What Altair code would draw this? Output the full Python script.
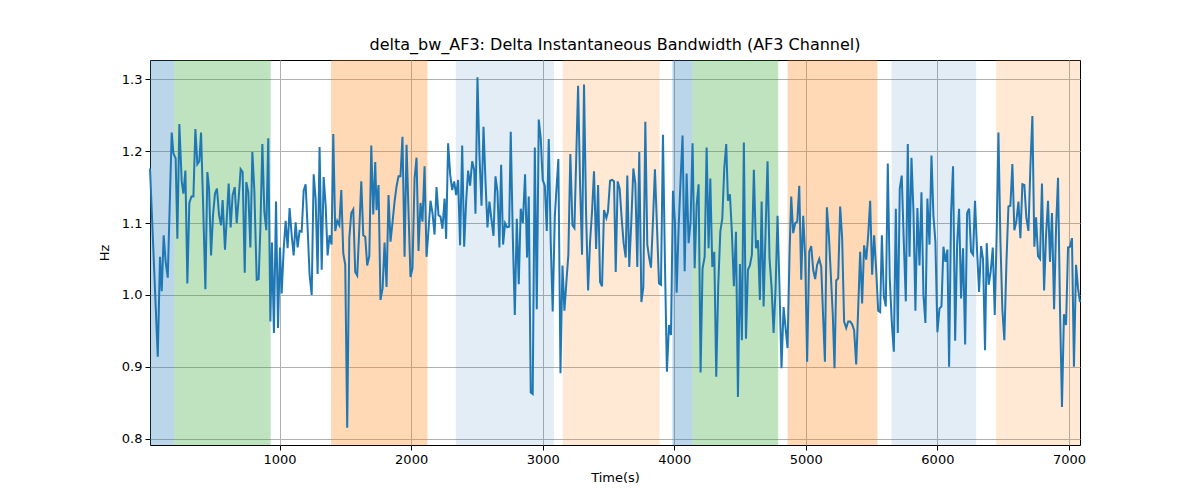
import altair as alt
import pandas as pd

time_s = [
    15, 74, 91, 104, 119, 134, 150, 167, 180, 193, 210, 223, 238, 256, 269, 284,
    299, 314, 330, 345, 360, 375, 390, 403, 418, 436, 451, 464, 479, 494, 509, 524,
    540, 555, 567, 585, 600, 613, 628, 643, 659, 674, 689, 704, 719, 735, 747, 762,
    778, 793, 808, 826, 841, 854, 869, 884, 899, 914, 930, 942, 957, 973, 988, 1003,
    1016, 1031, 1046, 1061, 1076, 1092, 1107, 1122, 1137, 1152, 1168, 1183, 1198, 1213, 1228, 1244,
    1259, 1274, 1289, 1304, 1320, 1335, 1350, 1365, 1380, 1395, 1408, 1423, 1438, 1454, 1469, 1484,
    1499, 1514, 1530, 1545, 1560, 1575, 1590, 1606, 1621, 1636, 1651, 1666, 1682, 1697, 1712, 1727,
    1737, 1752, 1767, 1783, 1798, 1813, 1828, 1843, 1859, 1874, 1889, 1904, 1919, 1934, 1950, 1965,
    1980, 1995, 2010, 2026, 2041, 2056, 2071, 2086, 2102, 2117, 2132, 2147, 2162, 2178, 2193, 2208,
    2223, 2238, 2254, 2266, 2281, 2297, 2312, 2327, 2342, 2357, 2372, 2388, 2403, 2418, 2433, 2448,
    2464, 2479, 2489, 2504, 2519, 2535, 2550, 2565, 2580, 2595, 2611, 2626, 2641, 2656, 2671, 2684,
    2699, 2714, 2730, 2745, 2757, 2773, 2788, 2803, 2818, 2833, 2849, 2866, 2881, 2894, 2909, 2924,
    2940, 2955, 2970, 2985, 3000, 3016, 3031, 3046, 3061, 3076, 3092, 3107, 3119, 3135, 3150, 3165,
    3180, 3195, 3210, 3226, 3241, 3256, 3269, 3284, 3299, 3314, 3330, 3345, 3360, 3375, 3390, 3406,
    3421, 3436, 3451, 3466, 3484, 3496, 3512, 3527, 3542, 3555, 3570, 3585, 3600, 3615, 3631, 3643,
    3658, 3674, 3689, 3704, 3719, 3734, 3750, 3765, 3780, 3795, 3808, 3823, 3838, 3853, 3869, 3884,
    3899, 3914, 3929, 3944, 3960, 3975, 3990, 4005, 4018, 4033, 4048, 4063, 4079, 4094, 4109, 4124,
    4139, 4155, 4170, 4185, 4200, 4215, 4231, 4246, 4261, 4274, 4289, 4304, 4319, 4334, 4350, 4365,
    4380, 4395, 4408, 4423, 4438, 4453, 4469, 4484, 4499, 4514, 4529, 4545, 4560, 4575, 4590, 4605,
    4621, 4636, 4651, 4664, 4679, 4694, 4709, 4724, 4740, 4755, 4770, 4785, 4800, 4815, 4831, 4846,
    4861, 4876, 4889, 4904, 4919, 4935, 4950, 4965, 4980, 4995, 5010, 5026, 5041, 5056, 5071, 5086,
    5102, 5117, 5132, 5145, 5160, 5175, 5190, 5205, 5218, 5231, 5246, 5261, 5276, 5291, 5307, 5322,
    5337, 5352, 5367, 5383, 5398, 5413, 5428, 5443, 5459, 5474, 5489, 5504, 5519, 5534, 5550, 5565,
    5578, 5593, 5608, 5623, 5638, 5653, 5669, 5684, 5699, 5714, 5729, 5745, 5760, 5775, 5788, 5803,
    5818, 5833, 5848, 5864, 5879, 5894, 5909, 5924, 5940, 5955, 5970, 5985, 6000, 6016, 6031, 6046,
    6061, 6076, 6089, 6104, 6119, 6135, 6150, 6165, 6180, 6195, 6211, 6226, 6241, 6256, 6271, 6286,
    6302, 6317, 6332, 6347, 6362, 6375, 6390, 6405, 6421, 6436, 6451, 6464, 6479, 6494, 6509, 6525,
    6540, 6555, 6570, 6585, 6600, 6616, 6631, 6646, 6661, 6676, 6692, 6707, 6722, 6737, 6750, 6765,
    6780, 6795, 6811, 6826, 6841, 6856, 6871, 6887, 6902, 6917, 6932, 6947, 6962, 6978, 6993, 7008,
    7023, 7038, 7054, 7069, 7084,
]

delta_bw_hz = [
    1.176, 0.914, 1.053, 1.005, 1.083, 1.046, 1.024, 1.139, 1.226, 1.197, 1.190, 1.078, 1.238, 1.158, 1.141, 1.173,
    1.016, 1.128, 1.137, 1.137, 1.231, 1.182, 1.186, 1.226, 1.130, 1.008, 1.171, 1.148, 1.055, 1.111, 1.141, 1.148,
    1.111, 1.097, 1.132, 1.063, 1.111, 1.155, 1.094, 1.139, 1.150, 1.100, 1.134, 1.175, 1.171, 1.031, 1.157, 1.143,
    1.066, 1.199, 1.146, 1.021, 1.022, 1.093, 1.210, 1.116, 1.090, 1.218, 0.963, 1.073, 0.947, 1.130, 0.954, 1.066,
    1.002, 1.063, 1.103, 1.065, 1.121, 1.083, 1.055, 1.101, 1.066, 1.089, 1.088, 1.145, 1.154, 1.093, 1.028, 1.000,
    1.168, 1.134, 1.029, 1.206, 1.035, 1.164, 1.125, 1.055, 1.083, 1.070, 1.224, 1.089, 1.103, 1.097, 1.146, 1.058,
    1.042, 0.815, 1.079, 1.114, 1.119, 1.032, 1.027, 1.092, 1.158, 1.083, 1.081, 1.041, 1.054, 1.208, 1.112, 1.185,
    1.118, 1.153, 0.993, 1.009, 1.073, 1.011, 1.139, 1.074, 1.102, 1.130, 1.151, 1.165, 1.165, 1.220, 1.053, 1.209,
    1.116, 1.025, 1.037, 1.162, 1.191, 1.061, 1.128, 1.102, 1.179, 1.053, 1.090, 1.131, 1.114, 1.084, 1.150, 1.111,
    1.109, 1.092, 1.134, 1.078, 1.211, 1.167, 1.146, 1.158, 1.139, 1.160, 1.069, 1.208, 1.067, 1.130, 1.173, 1.152,
    1.186, 1.174, 1.113, 1.303, 1.195, 1.124, 1.234, 1.159, 1.094, 1.130, 1.104, 1.082, 1.165, 1.144, 1.066, 1.181,
    1.070, 1.100, 1.094, 1.095, 1.227, 1.079, 0.972, 1.106, 1.015, 1.120, 1.100, 1.168, 1.052, 1.137, 0.864, 0.862,
    1.205, 0.980, 1.244, 1.218, 1.160, 1.152, 1.089, 1.217, 1.073, 0.977, 1.109, 1.155, 1.189, 0.891, 1.041, 0.978,
    1.018, 1.056, 1.196, 1.097, 1.093, 1.199, 1.291, 1.154, 1.056, 1.293, 1.111, 1.006, 1.074, 1.116, 1.172, 1.064,
    1.153, 1.018, 1.012, 1.118, 1.107, 1.116, 1.159, 1.160, 1.158, 1.032, 1.158, 1.148, 1.107, 1.072, 1.052, 1.166,
    1.039, 1.104, 1.176, 1.155, 1.039, 1.199, 0.990, 1.011, 1.241, 1.070, 1.053, 1.038, 1.102, 1.175, 1.093, 1.016,
    1.014, 1.223, 1.046, 0.893, 0.958, 0.944, 1.145, 1.102, 1.003, 1.093, 1.160, 1.222, 1.033, 1.169, 1.072, 1.102,
    1.211, 1.037, 1.125, 1.154, 0.892, 1.037, 1.053, 1.205, 1.065, 1.162, 1.039, 1.060, 0.886, 1.012, 1.088, 1.106,
    1.176, 1.210, 1.131, 1.140, 1.087, 1.012, 1.088, 0.858, 1.043, 0.937, 1.212, 0.939, 1.035, 1.041, 1.056, 1.174,
    1.065, 1.076, 0.993, 1.130, 0.984, 1.088, 1.186, 1.051, 1.009, 0.947, 1.009, 1.110, 1.009, 0.898, 0.983, 0.954,
    0.926, 1.056, 1.137, 1.086, 1.100, 1.102, 1.152, 1.021, 1.110, 1.053, 0.907, 1.060, 1.068, 1.035, 1.022, 1.042,
    1.050, 1.039, 0.967, 0.907, 1.122, 1.083, 1.028, 0.972, 0.898, 1.020, 1.023, 1.123, 1.079, 0.963, 0.954, 0.963,
    0.963, 0.959, 0.951, 0.903, 0.981, 1.060, 0.988, 1.069, 1.049, 1.083, 1.131, 1.028, 1.083, 1.037, 0.978, 0.976,
    1.083, 0.998, 0.984, 1.183, 1.023, 0.963, 0.921, 1.120, 0.947, 1.148, 1.166, 1.072, 0.991, 1.210, 1.053, 1.191,
    1.117, 0.978, 1.121, 1.041, 1.143, 1.000, 0.961, 1.134, 1.070, 1.194, 1.110, 1.074, 0.948, 0.981, 0.984, 1.067,
    1.046, 1.063, 0.900, 1.114, 1.179, 0.936, 1.070, 1.120, 0.995, 1.065, 0.931, 1.114, 1.120, 1.060, 1.056, 1.131,
    1.060, 1.004, 1.068, 1.050, 0.923, 1.072, 1.014, 1.032, 1.066, 0.972, 1.088, 1.226, 1.076, 0.979, 0.937, 1.046,
    1.123, 1.124, 1.182, 1.090, 1.102, 1.130, 1.079, 1.154, 1.153, 1.108, 1.089, 1.179, 1.249, 1.067, 1.108, 1.054,
    1.050, 1.155, 1.006, 1.083, 1.131, 1.046, 1.114, 0.980, 1.093, 1.163, 0.981, 0.844, 0.973, 0.958, 1.066, 1.067,
    1.079, 0.900, 1.042, 1.009, 0.990,
]

region_start = [15, 199, 1391, 2340, 3152, 3986, 4139, 4861, 5652, 6447]
region_end = [199, 932, 2124, 3085, 3889, 4139, 4790, 5545, 6295, 7084]
region_kind = ["blue", "green", "orange", "light blue", "light orange",
               "blue", "green", "orange", "light blue", "light orange"]

strong_kinds = ["blue", "green", "orange"]
strong_colors = ["#1f77b4", "#2ca02c", "#ff7f0e"]

signal = pd.DataFrame({"time": time_s, "hz": delta_bw_hz})
regions = pd.DataFrame({"start": region_start, "end": region_end, "kind": region_kind})

x_scale = alt.Scale(domain=[15, 7084], nice=False, zero=False)
y_scale = alt.Scale(domain=[0.791, 1.327], nice=False, zero=False)


def band_layer(kinds, colors, opacity):
    return (
        alt.Chart(regions)
        .transform_filter(alt.FieldOneOfPredicate(field="kind", oneOf=kinds))
        .mark_rect(opacity=opacity)
        .encode(
            x=alt.X("start:Q", scale=x_scale),
            x2="end:Q",
            color=alt.Color("kind:N", scale=alt.Scale(domain=kinds, range=colors), legend=None),
        )
    )


strong_bands = band_layer(strong_kinds, strong_colors, 0.3)
light_blue_bands = band_layer(["light blue"], ["#1f77b4"], 0.13)
light_orange_bands = band_layer(["light orange"], ["#ff7f0e"], 0.18)

line = (
    alt.Chart(signal)
    .mark_line(color="#1f77b4", strokeWidth=2)
    .encode(
        x=alt.X(
            "time:Q",
            scale=x_scale,
            title="Time(s)",
            axis=alt.Axis(values=[1000, 2000, 3000, 4000, 5000, 6000, 7000], format="d"),
        ),
        y=alt.Y(
            "hz:Q",
            scale=y_scale,
            title="Hz",
            axis=alt.Axis(values=[0.8, 0.9, 1.0, 1.1, 1.2, 1.3], format=".1f"),
        ),
    )
)

chart = (
    alt.layer(strong_bands, light_blue_bands, light_orange_bands, line)
    .resolve_scale(color="independent")
    .properties(
        width=930,
        height=385,
        title=alt.TitleParams(
            "delta_bw_AF3: Delta Instantaneous Bandwidth (AF3 Channel)",
            fontSize=16,
            fontWeight="normal",
            font="DejaVu Sans",
            color="black",
            offset=7,
        ),
        autosize=alt.AutoSizeParams(type="none"),
        padding={"left": 142, "top": 52, "right": 112, "bottom": 47},
    )
    .configure_view(stroke="black", strokeWidth=1)
    .configure_axis(
        labelFont="DejaVu Sans",
        titleFont="DejaVu Sans",
        labelFontSize=13,
        titleFontSize=13,
        titleFontWeight="normal",
        labelColor="black",
        titleColor="black",
        domain=False,
        tickColor="black",
        tickSize=5,
        grid=True,
        gridColor="#b0b0b0",
        gridWidth=1,
        labelPadding=3,
    )
    .configure_axisX(titlePadding=5)
    .configure_axisY(titlePadding=10)
)

chart.save("out.html", embed_options={"renderer": "svg", "actions": False})
